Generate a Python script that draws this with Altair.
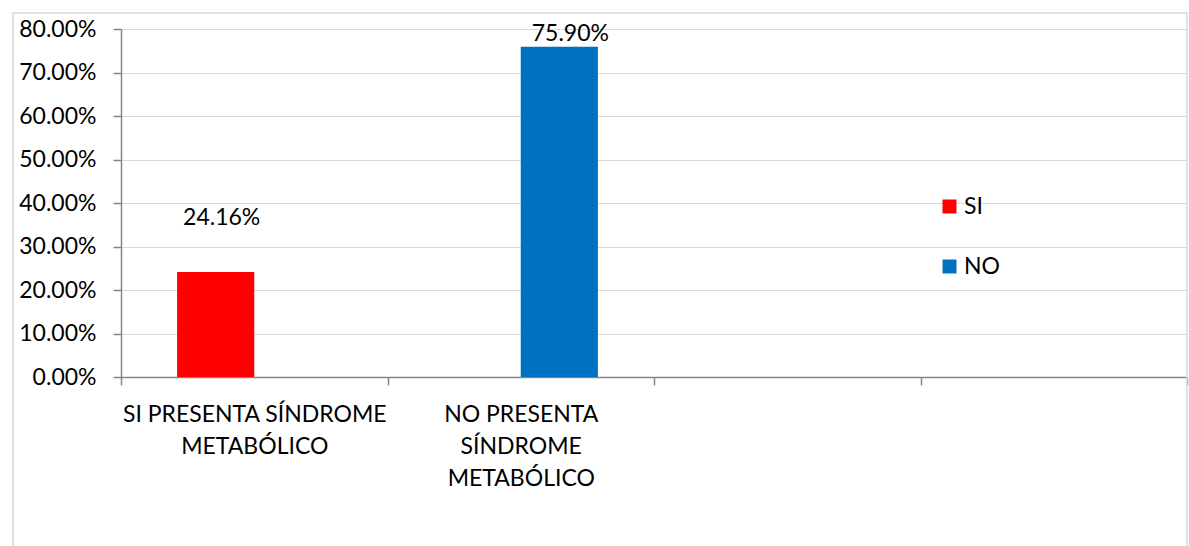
import altair as alt
import pandas as pd

categories = ["SI PRESENTA SÍNDROME\nMETABÓLICO", "NO PRESENTA\nSÍNDROME\nMETABÓLICO", " ", "  "]
series = ["SI", "NO"]
si_values = [0.2416, 0.0]
no_values = [0.0, 0.759]
colors = ["#FF0000", "#0070C0"]
y_ticks = [0.0, 0.1, 0.2, 0.3, 0.4, 0.5, 0.6, 0.7, 0.8]

rows = []
for i, c in enumerate(categories[:2]):
    rows.append({"cat": c, "serie": "SI", "value": si_values[i]})
    rows.append({"cat": c, "serie": "NO", "value": no_values[i]})
df = pd.DataFrame(rows)

FONT = "Lato"
FS = 23
AXC = "#868686"

x = alt.X(
    "cat:N",
    sort=categories,
    scale=alt.Scale(domain=categories, paddingInner=0, paddingOuter=0),
    axis=alt.Axis(
        title=None, labelAngle=0, tickBand="extent", grid=False,
        labelExpr="split(datum.label, '\\n')",
        domainColor=AXC, tickColor=AXC, tickSize=8, domainWidth=1.5, tickWidth=1.5,
        labelFont=FONT, labelFontSize=FS, labelColor="#000000",
        labelLineHeight=32, labelPadding=18, labelLimit=0,
        labelOverlap=False, labelBound=False, labelBaseline="top",
    ),
)
xoff = alt.XOffset("serie:N", sort=series,
                   scale=alt.Scale(domain=series, paddingInner=0, paddingOuter=0.727))
y = alt.Y(
    "value:Q",
    scale=alt.Scale(domain=[0, 0.8], nice=False, zero=True),
    axis=alt.Axis(
        title=None, format=".2%", values=y_ticks,
        gridColor="#d9d9d9", gridWidth=1,
        domainColor=AXC, tickColor=AXC, tickSize=8, domainWidth=1.5, tickWidth=1.5,
        labelFont=FONT, labelFontSize=FS, labelColor="#000000", labelPadding=17,
    ),
)
color = alt.Color(
    "serie:N", sort=series,
    scale=alt.Scale(domain=series, range=colors),
    legend=alt.Legend(
        title=None, orient="none", legendX=817, legendY=166,
        symbolType="square", symbolSize=196, symbolStrokeWidth=0,
        labelFont=FONT, labelFontSize=FS, labelColor="#000000",
        labelOffset=3, rowPadding=36, padding=0,
    ),
)

border = alt.Chart(pd.DataFrame({"a": [0]})).mark_rect(
    fill="transparent", stroke="#d9d9d9", strokeWidth=1.5
).encode(x=alt.value(-108), x2=alt.value(1066), y=alt.value(-16), y2=alt.value(600))

bars = alt.Chart(df).mark_bar().encode(x=x, xOffset=xoff, y=y, color=color)

lab_si = alt.Chart(df).transform_filter(
    "datum.serie == 'SI' && datum.value > 0"
).mark_text(font=FONT, fontSize=FS, color="#000000", baseline="middle", dx=6, dy=-54).encode(
    x=alt.X("cat:N", sort=categories), xOffset=alt.XOffset("serie:N", sort=series),
    y="value:Q", text=alt.Text("value:Q", format=".2%"))

lab_no = alt.Chart(df).transform_filter(
    "datum.serie == 'NO' && datum.value > 0"
).mark_text(font=FONT, fontSize=FS, color="#000000", baseline="middle", dx=11, dy=-13).encode(
    x=alt.X("cat:N", sort=categories), xOffset=alt.XOffset("serie:N", sort=series),
    y="value:Q", text=alt.Text("value:Q", format=".2%"))

chart = alt.layer(border, bars, lab_si, lab_no).properties(
    width=1066, height=348,
    autosize=alt.AutoSizeParams(type="none"),
    padding={"left": 121, "top": 29, "right": 2, "bottom": 169},
    background="#ffffff",
).configure_view(stroke=None)

chart.save("out.html", embed_options={"renderer": "svg", "actions": False})
